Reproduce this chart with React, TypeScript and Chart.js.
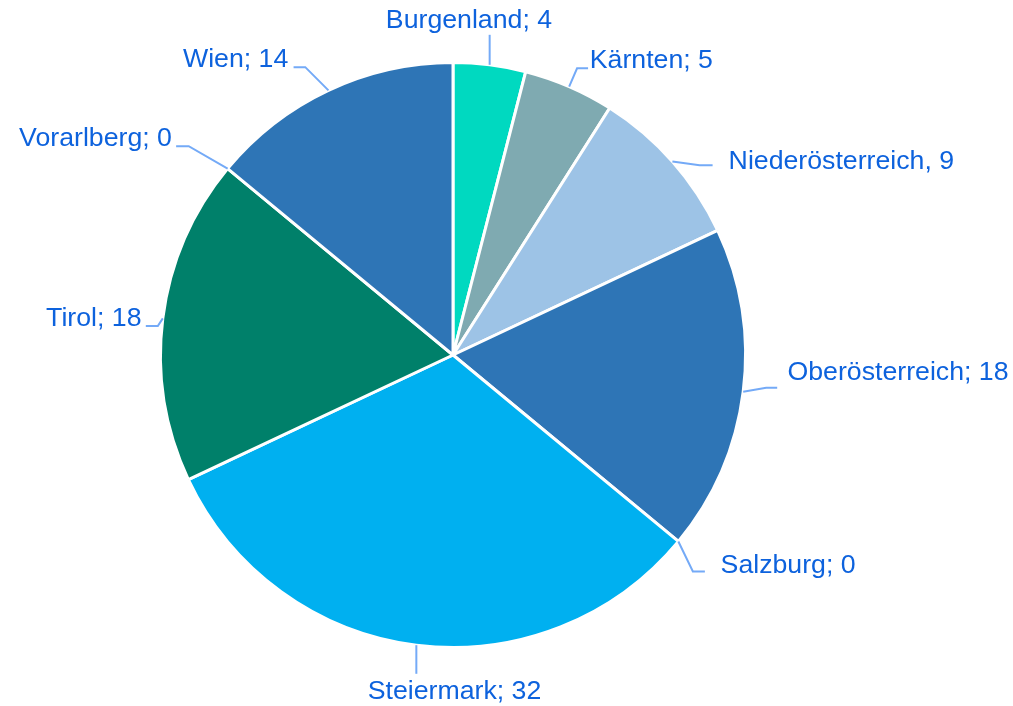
import React, { useEffect, useRef } from "react";
import { Chart, registerables } from "chart.js";

Chart.register(...registerables);

const categories = [
  "Burgenland",
  "Kärnten",
  "Niederösterreich",
  "Oberösterreich",
  "Salzburg",
  "Steiermark",
  "Tirol",
  "Vorarlberg",
  "Wien",
];
const values = [4, 5, 9, 18, 0, 32, 18, 0, 14];
const separators = ["; ", "; ", ", ", "; ", "; ", "; ", "; ", "; ", "; "];
const sliceColors = [
  "#00D9C0",
  "#7FAAB1",
  "#9DC3E6",
  "#2E75B6",
  "#2E75B6",
  "#00B0F0",
  "#00806A",
  "#2E75B6",
  "#2E75B6",
];

// Label layout relative to each slice's outer mid-point (annotation layout only)
// [elbowDx, elbowDy, endDx, textDx, textDy, align]
const labelLayout: [number, number, number, number, number, CanvasTextAlign][] = [
  [0, -30, 0, -20.7, -36.8, "center"],
  [7.9, -18.3, 11, 20.6, -19, "left"],
  [27.2, 3.7, 13, 56.2, 7.7, "left"],
  [23, -4, 11, 44.3, -11.7, "left"],
  [14.5, 30, 12, 42.2, 31.3, "left"],
  [0, 28.6, 0, 38.2, 54.3, "center"],
  [-5, 7.7, -12, -21.3, 7.7, "right"],
  [-38.9, -22.3, -12.6, -55.7, -22.3, "right"],
  [-23.2, -23.2, -11.7, -40.2, -22.9, "right"],
];

const labelPlugin = {
  id: "outsideLabels",
  afterDatasetsDraw(chart: any) {
    const ctx: CanvasRenderingContext2D = chart.ctx;
    const meta = chart.getDatasetMeta(0);
    ctx.save();
    meta.data.forEach((arc: any, i: number) => {
      const { x, y, startAngle, endAngle, outerRadius } = arc.getProps(
        ["x", "y", "startAngle", "endAngle", "outerRadius"],
        true
      );
      const mid = (startAngle + endAngle) / 2;
      const ax = x + Math.cos(mid) * outerRadius;
      const ay = y + Math.sin(mid) * outerRadius;
      const [edx, edy, endDx, tdx, tdy, align] = labelLayout[i];
      ctx.strokeStyle = "#74AAF7";
      ctx.lineWidth = 2;
      ctx.beginPath();
      ctx.moveTo(ax, ay);
      ctx.lineTo(ax + edx, ay + edy);
      if (endDx !== 0) ctx.lineTo(ax + edx + endDx, ay + edy);
      ctx.stroke();
      ctx.fillStyle = "#0D62DD";
      ctx.font = "26.7px 'Liberation Sans', Arial, sans-serif";
      ctx.textAlign = align;
      ctx.textBaseline = "alphabetic";
      ctx.fillText(categories[i] + separators[i] + values[i], ax + tdx, ay + tdy);
    });
    ctx.restore();
  },
};

export default function App() {
  const ref = useRef<HTMLCanvasElement | null>(null);
  useEffect(() => {
    if (!ref.current) return;
    const chart = new Chart(ref.current, {
      type: "pie",
      data: {
        labels: categories,
        datasets: [
          {
            data: values,
            backgroundColor: sliceColors,
            borderColor: "#FFFFFF",
            borderWidth: 3,
            radius: 292.5,
          } as any,
        ],
      },
      options: {
        animation: false,
        responsive: false,
        events: [],
        layout: { padding: { left: 100, right: 207, top: 62, bottom: 58 } },
        plugins: {
          legend: { display: false },
          tooltip: { enabled: false },
          title: { display: false },
        },
      },
      plugins: [labelPlugin],
    });
    return () => chart.destroy();
  }, []);
  return (
    <div style={{ position: "fixed", left: 0, top: 0, width: 1013, height: 706, background: "#fff" }}>
      <canvas ref={ref} width={1013} height={706} />
    </div>
  );
}
